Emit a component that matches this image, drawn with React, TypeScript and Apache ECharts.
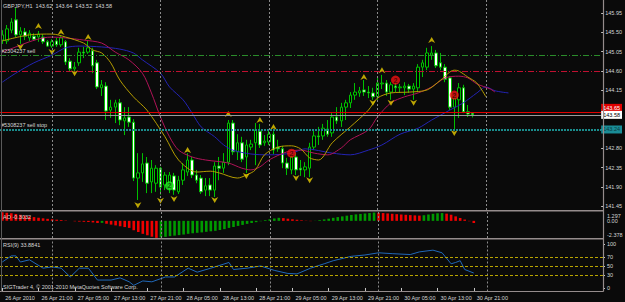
import React, { useEffect, useRef } from "react";
import * as echarts from "echarts";

const FONT = "Liberation Sans, Arial, sans-serif";
const TXT = "#d6d6d6";

const tickLabels = ["26 Apr 2010","26 Apr 21:00","27 Apr 05:00","27 Apr 13:00","27 Apr 21:00","28 Apr 05:00","28 Apr 13:00","28 Apr 21:00","29 Apr 05:00","29 Apr 13:00","29 Apr 21:00","30 Apr 05:00","30 Apr 13:00","30 Apr 21:00"];
const SLOTS = 133;
const categories = Array.from({ length: SLOTS }, (_, i) => String(i));

// [open, close, low, high]
const candles = [
[145.32,145.44,145.23,145.55],[145.30,145.58,145.23,145.67],[145.55,145.74,145.48,145.83],[145.79,145.44,145.39,146.07],[145.44,145.53,145.23,145.62],
[145.51,145.41,145.32,145.60],[145.37,145.48,145.30,145.55],[145.41,145.34,145.30,145.48],[145.39,145.46,145.28,145.53],[145.39,145.28,145.23,145.46],
[145.28,145.18,145.16,145.32],[145.18,145.28,145.14,145.34],[145.30,145.21,145.16,145.37],[145.21,145.37,145.16,145.41],[145.28,144.81,144.74,145.32],
[144.83,144.65,144.58,144.90],[144.65,144.69,144.60,144.81],[144.79,145.04,144.72,145.14],[145.04,145.02,144.90,145.16],[145.04,145.14,145.00,145.30],
[145.07,144.72,144.55,145.14],[144.79,144.23,144.18,144.86],[144.21,144.28,144.02,144.39],[144.25,143.67,143.46,144.34],[143.69,143.76,143.51,143.93],
[143.76,143.86,143.39,143.93],[143.86,143.46,143.34,143.95],[143.44,143.51,143.11,143.76],[143.53,143.41,143.30,143.76],[143.41,142.11,142.04,143.48],
[142.11,142.23,141.60,142.69],[142.23,142.44,142.02,142.69],[142.46,141.99,141.76,142.60],[142.02,142.34,141.76,142.53],[141.99,142.34,141.79,142.41],
[142.34,141.90,141.72,142.37],[141.95,142.18,141.83,142.25],[141.88,142.18,141.76,142.25],[142.16,141.83,141.72,142.23],[141.79,142.06,141.74,142.16],
[142.06,142.30,141.95,142.46],[142.25,142.53,142.16,142.69],[142.53,142.18,142.11,142.60],[142.18,142.06,141.99,142.30],[142.11,141.79,141.74,142.18],
[141.83,141.93,141.69,142.11],[141.95,141.83,141.69,142.11],[141.83,142.39,141.67,142.48],[142.39,142.34,142.06,142.60],[142.34,142.48,142.23,142.69],
[142.48,143.39,142.41,143.46],[143.39,142.72,142.65,143.46],[142.72,142.93,142.53,143.13],[142.93,142.55,142.48,143.07],[142.60,142.88,142.23,143.00],
[142.83,142.90,142.76,143.00],[142.93,143.23,142.41,143.39],[143.20,142.88,142.81,143.37],[142.93,142.97,142.86,143.11],[142.95,143.13,142.88,143.23],
[143.13,142.76,142.67,143.20],[142.83,142.79,142.72,143.00],[142.79,142.46,142.34,142.86],[142.46,142.34,142.18,142.58],[142.30,142.60,142.20,142.76],
[142.60,142.30,142.18,142.69],[142.34,142.30,142.16,142.53],[142.30,142.37,142.13,142.48],[142.34,142.83,142.13,142.93],[142.83,143.09,142.76,143.23],
[143.09,143.07,142.88,143.30],[143.09,143.27,143.00,143.37],[143.25,143.13,143.07,143.46],[143.16,143.53,143.07,143.62],[143.53,143.44,143.37,143.76],
[143.44,143.76,143.30,143.86],[143.76,143.86,143.46,143.93],[143.86,144.04,143.74,144.11],[144.04,144.11,143.93,144.32],[144.09,144.14,144.00,144.23],
[144.16,144.11,144.02,144.39],[144.11,144.09,143.97,144.25],[144.09,144.00,143.93,144.21],[144.00,144.32,143.93,144.46],[144.30,144.32,144.18,144.51],
[144.32,144.11,144.02,144.39],[144.11,144.28,143.93,144.34],[144.25,144.21,144.11,144.34],[144.21,144.23,144.09,144.30],[144.21,144.25,144.04,144.34],
[144.25,144.18,144.09,144.30],[144.18,144.25,143.93,144.32],[144.21,144.69,144.11,144.76],[144.69,144.79,144.46,144.86],[144.69,145.02,144.62,145.14],
[144.97,145.02,144.86,145.18],[145.02,144.72,144.67,145.09],[144.79,144.69,144.62,145.02],[144.69,144.41,144.34,144.76],[144.44,143.76,143.69,144.48],
[143.76,143.97,143.23,144.04],[143.93,144.21,143.51,144.32],[144.21,143.65,143.62,144.28],[143.65,143.60,143.53,143.81],[143.62,143.58,143.52,143.64]
];

// Alligator lines (bar index, price), shifted forward
const lipsLine = [[0,145.30],[6,145.44],[11,145.46],[14,145.39],[18,145.25],[20,145.09],[22,145.02],[24,144.79],[26,144.39],[29,144.00],[32,143.69],[36,143.07],[39,142.53],[43,142.25],[46,142.27],[48,142.23],[52,142.11],[54,142.18],[56,142.30],[58,142.65],[61,142.83],[64,142.86],[66,142.79],[68,142.58],[70,142.53],[73,142.93],[77,143.30],[81,143.69],[83,143.97],[86,144.09],[90,144.11],[94,144.16],[97,144.39],[100,144.62],[101,144.60],[103,144.46],[105,144.32],[107,144.00]];
const teethLine = [[0,145.04],[3,145.16],[6,145.28],[9,145.37],[11,145.39],[14,145.37],[18,145.32],[22,145.25],[25,145.04],[28,144.86],[31,144.55],[33,144.09],[35,143.53],[37,143.07],[39,142.76],[42,142.60],[45,142.53],[50,142.46],[53,142.34],[55,142.30],[57,142.37],[59,142.53],[63,142.72],[66,142.76],[69,142.69],[72,142.65],[75,142.81],[77,143.00],[81,143.23],[83,143.53],[86,143.86],[89,144.00],[92,144.09],[95,144.23],[98,144.44],[101,144.48],[103,144.44],[105,144.30],[108,144.18],[109,144.11]];
const jawLine = [[0,144.34],[3,144.55],[7,144.79],[11,144.97],[14,145.14],[17,145.18],[22,145.16],[26,145.11],[29,145.02],[31,144.86],[35,144.55],[37,144.23],[40,143.93],[42,143.62],[44,143.30],[47,143.07],[49,142.88],[51,142.76],[55,142.67],[59,142.65],[64,142.69],[67,142.79],[73,142.69],[77,142.65],[81,142.76],[84,142.88],[88,143.13],[92,143.27],[95,143.46],[99,143.69],[102,143.86],[105,144.09],[107,144.23],[109,144.14],[112,144.09]];

const upFractals = [[8,145.65],[13,145.51],[19,145.39],[41,142.76],[50,143.60],[57,143.46],[60,143.30],[80,144.46],[84,144.62],[95,145.32]];
const downFractals = [[4,145.16],[11,145.04],[16,144.55],[30,141.48],[35,141.58],[38,141.62],[47,141.60],[54,142.16],[65,142.11],[68,142.06],[82,143.86],[86,143.86],[91,143.86],[100,143.16]];
const greenSignals = [[37,141.93]];
const redSignals = [[64,142.69],[87,144.39],[100,144.04]];

const priceTicks = [141.45,141.90,142.35,142.80,143.25,143.70,144.15,144.60,145.05,145.50,145.95];
const priceLabels = [141.45,141.90,142.35,142.80,144.15,144.60,145.05,145.50,145.95];
const daySeparators = [11,35,59,83,107];

const aoValues = [1.20,1.12,1.05,0.96,0.84,0.73,0.62,0.52,0.43,0.35,0.28,0.22,0.16,0.11,0.05,0.00,-0.06,-0.10,-0.13,-0.16,-0.22,-0.30,-0.28,-0.40,-0.52,-0.63,-0.75,-0.86,-0.98,-1.30,-1.55,-1.80,-2.00,-2.20,-2.36,-2.30,-2.22,-2.12,-2.05,-1.98,-1.90,-1.80,-1.72,-1.66,-1.60,-1.52,-1.45,-1.38,-1.27,-1.15,-0.98,-0.85,-0.70,-0.56,-0.42,-0.30,-0.18,-0.05,0.10,0.22,0.33,0.42,0.38,0.30,0.22,0.15,0.08,0.03,-0.04,0.02,0.10,0.20,0.30,0.42,0.52,0.62,0.72,0.82,0.90,0.96,1.02,1.08,1.15,1.12,1.08,1.03,0.98,0.93,0.88,0.84,0.80,0.76,0.73,0.78,0.88,0.98,1.05,1.08,1.00,0.85,0.62,0.40,0.18,-0.05,-0.30];

const rsiPoints = [[0,59],[2,73],[3,73],[4,59],[6,64],[9,45],[11,48],[13,45],[15,25],[17,45],[19,45],[21,18],[24,18],[26,23],[28,14],[29,6],[31,16],[33,14],[36,25],[38,25],[41,45],[43,36],[46,45],[50,58],[51,42],[54,45],[57,50],[60,40],[63,33],[65,32],[68,45],[71,55],[73,62],[77,72],[80,75],[83,80],[86,78],[90,76],[92,82],[95,86],[97,80],[99,55],[100,58],[101,62],[102,42],[104,34]];
const rsiLevels = [30, 50, 70];

const titleText = "GBPJPY,H1  143.62  143.64  143.52  143.58";

function buildOption() {
  const gridL = -1, gridW = 604;
  const aoData = aoValues.map((v, i) => ({
    value: v,
    itemStyle: { color: i > 0 && v >= aoValues[i - 1] ? "#009a00" : "#f00000" },
  }));
  const sepLine = (gi: number) => ({
    type: "line", xAxisIndex: gi, yAxisIndex: gi, data: [], silent: true,
    markLine: {
      symbol: "none", silent: true, animation: false,
      lineStyle: { color: "#8a8a8a", type: [2, 2], width: 1 },
      label: { show: false },
      data: daySeparators.map((d) => ({ xAxis: String(d) })),
    },
  });
  const xAxisBase = (gi: number) => ({
    type: "category", gridIndex: gi, data: categories, boundaryGap: true,
    axisLine: { show: false }, axisTick: { show: false }, axisLabel: { show: false }, splitLine: { show: false },
  });
  const hLabel = (txt: string) => ({
    show: true, position: "insideStartTop", formatter: txt, color: TXT, fontSize: 5.5, fontFamily: FONT, distance: 1,
  });
  const boxLabel = (txt: string, bg: string, fg: string, dy = 0) => ({
    show: true, position: "end", formatter: txt, color: fg, backgroundColor: bg, fontSize: 5.5, fontFamily: FONT,
    padding: [1, 2, 1, 2], distance: 0, offset: [0, dy],
  });
  const arrowUp = "path://M4,0 L8,7 L4,5 L0,7 Z";
  return {
    animation: false,
    backgroundColor: "#0a0a0a",
    grid: [
      { left: gridL, top: 0, width: gridW, height: 210 },
      { left: gridL, top: 211.5, width: gridW, height: 26.5 },
      { left: gridL, top: 239.5, width: gridW, height: 52 },
    ],
    xAxis: [
      xAxisBase(0),
      xAxisBase(1),
      {
        ...xAxisBase(2),
        axisTick: {
          show: true, length: 3, alignWithLabel: true, lineStyle: { color: "#c8c8c8" },
          interval: (i: number) => i % 8 === 0 && i / 8 < tickLabels.length,
        },
        axisLabel: {
          show: true, color: TXT, fontSize: 5.5, fontFamily: FONT, align: "left", margin: 3, padding: [0, 0, 0, 3],
          interval: (i: number) => i % 8 === 0 && i / 8 < tickLabels.length,
          formatter: (_v: string, i: number) => tickLabels[i / 8] ?? "",
        },
      },
    ],
    yAxis: [
      {
        type: "value", gridIndex: 0, position: "right", min: 141.367, max: 146.252, scale: true,
        splitLine: { show: false }, axisLine: { show: false },
        axisTick: { show: true, length: 2, lineStyle: { color: "#c8c8c8" }, customValues: priceTicks },
        axisLabel: { show: true, color: TXT, fontSize: 5.5, fontFamily: FONT, margin: 4, customValues: priceLabels, formatter: (v: number) => v.toFixed(2) },
      },
      {
        type: "value", gridIndex: 1, position: "right", min: -2.378, max: 1.297,
        splitLine: { show: false }, axisLine: { show: false }, axisTick: { show: false }, axisLabel: { show: false },
      },
      {
        type: "value", gridIndex: 2, position: "right", min: -8, max: 110.2,
        splitLine: { show: false }, axisLine: { show: false },
        axisTick: { show: true, length: 2, lineStyle: { color: "#c8c8c8" }, customValues: [0, 30, 50, 70, 100] },
        axisLabel: { show: true, color: TXT, fontSize: 5.5, fontFamily: FONT, margin: 4, customValues: [0, 30, 50, 70, 100] },
      },
    ],
    series: [
      sepLine(0), sepLine(1), sepLine(2),
      {
        type: "candlestick", xAxisIndex: 0, yAxisIndex: 0, data: candles, barWidth: 3, z: 2,
        itemStyle: { color: "#000000", color0: "#ffffff", borderColor: "#00c000", borderColor0: "#00c000", borderWidth: 1 },
        markLine: {
          symbol: "none", silent: true, animation: false,
          data: [
            { yAxis: 144.97, lineStyle: { color: "#2a8c2a", type: [6, 2, 1, 2], width: 1 }, label: hLabel("#2304237 sell") },
            { yAxis: 144.60, lineStyle: { color: "#c01030", type: [6, 2, 1, 2], width: 1 }, label: { show: false } },
            { yAxis: 143.65, lineStyle: { color: "#e00000", type: "solid", width: 1 }, label: boxLabel("143.65", "#e00000", "#ffffff", -4) },
            { yAxis: 143.58, lineStyle: { color: "#9a9a9a", type: "solid", width: 1 }, label: boxLabel("143.58", "#ffffff", "#000000") },
            { yAxis: 143.24, lineStyle: { color: "#1a8c8c", type: [2, 1], width: 2 }, label: hLabel("#5308237 sell stop") },
            { yAxis: 143.24, lineStyle: { color: "#1a8c8c", type: [2, 1], width: 2 }, label: boxLabel("143.24", "#1a8c96", "#0b3a3e") },
          ],
        },
      },
      { type: "line", xAxisIndex: 0, yAxisIndex: 0, data: jawLine, symbol: "none", smooth: 0.3, z: 3, lineStyle: { color: "#2424b4", width: 1 } },
      { type: "line", xAxisIndex: 0, yAxisIndex: 0, data: teethLine, symbol: "none", smooth: 0.3, z: 3, lineStyle: { color: "#b01458", width: 1 } },
      { type: "line", xAxisIndex: 0, yAxisIndex: 0, data: lipsLine, symbol: "none", smooth: 0.3, z: 3, lineStyle: { color: "#b49c00", width: 1 } },
      { type: "scatter", xAxisIndex: 0, yAxisIndex: 0, data: upFractals, symbol: arrowUp, symbolSize: [7, 6], z: 4, itemStyle: { color: "#e8cc00" } },
      { type: "scatter", xAxisIndex: 0, yAxisIndex: 0, data: downFractals, symbol: arrowUp, symbolRotate: 180, symbolSize: [7, 6], z: 4, itemStyle: { color: "#e8cc00" } },
      {
        type: "scatter", xAxisIndex: 0, yAxisIndex: 0, data: greenSignals, symbol: "circle", symbolSize: 9, z: 5,
        itemStyle: { color: "#22ee22" },
        label: { show: true, position: "inside", formatter: "2", color: "#0a3a0a", fontSize: 7, fontWeight: "bold", fontFamily: FONT },
      },
      {
        type: "scatter", xAxisIndex: 0, yAxisIndex: 0, data: redSignals, symbol: "circle", symbolSize: 9, z: 5,
        itemStyle: { color: "#f01010" },
        label: { show: true, position: "inside", formatter: "2", color: "#3a0000", fontSize: 7, fontWeight: "bold", fontFamily: FONT },
      },
      { type: "bar", xAxisIndex: 1, yAxisIndex: 1, data: aoData, barWidth: 2.6, z: 2 },
      {
        type: "line", xAxisIndex: 2, yAxisIndex: 2, data: rsiPoints, symbol: "none", z: 3, lineStyle: { color: "#2068b8", width: 1 },
        markLine: {
          symbol: "none", silent: true, animation: false,
          lineStyle: { color: "#b8a400", type: [3, 2], width: 1 }, label: { show: false },
          data: rsiLevels.map((v) => ({ yAxis: v })),
        },
      },
    ],
    graphic: [
      { type: "line", shape: { x1: 603.5, y1: 0, x2: 603.5, y2: 291.5 }, style: { stroke: "#958c8c", lineWidth: 1.2 }, z: 10 },
      { type: "line", shape: { x1: 0, y1: 210.8, x2: 603.5, y2: 210.8 }, style: { stroke: "#958c8c", lineWidth: 1.5 }, z: 10 },
      { type: "line", shape: { x1: 0, y1: 238.8, x2: 603.5, y2: 238.8 }, style: { stroke: "#958c8c", lineWidth: 1.5 }, z: 10 },
      { type: "line", shape: { x1: 0, y1: 291.5, x2: 603.5, y2: 291.5 }, style: { stroke: "#958c8c", lineWidth: 1.2 }, z: 10 },
      { type: "line", shape: { x1: 1.5, y1: 0, x2: 1.5, y2: 291.5 }, style: { stroke: "#5a5a5a", lineWidth: 1 }, z: 10 },
      { type: "text", x: 3, y: 3, style: { text: titleText, fill: TXT, fontSize: 5.5, fontFamily: FONT }, z: 11 },
      { type: "text", x: 3, y: 214, style: { text: "AO -0.3032", fill: TXT, fontSize: 5.5, fontFamily: FONT }, z: 11 },
      { type: "text", x: 3, y: 242, style: { text: "RSI(9) 33.8841", fill: TXT, fontSize: 5.5, fontFamily: FONT }, z: 11 },
      { type: "text", x: 3, y: 284, style: { text: "SIGTrader 4, \u00a9 2001-2010 MetaQuotes Software Corp.", fill: TXT, fontSize: 5.5, fontFamily: FONT }, z: 11 },
      { type: "text", x: 607, y: 212.5, style: { text: "1.297", fill: TXT, fontSize: 5.5, fontFamily: FONT }, z: 11 },
      { type: "text", x: 607, y: 218, style: { text: "0.00", fill: TXT, fontSize: 5.5, fontFamily: FONT }, z: 11 },
      { type: "text", x: 607, y: 231.5, style: { text: "-2.378", fill: TXT, fontSize: 5.5, fontFamily: FONT }, z: 11 },
    ],
  };
}

export default function App() {
  const ref = useRef<HTMLDivElement>(null);
  useEffect(() => {
    if (!ref.current) return;
    const chart = echarts.init(ref.current, null, { renderer: "svg" });
    chart.setOption(buildOption() as any);
    return () => chart.dispose();
  }, []);
  return <div ref={ref} style={{ position: "fixed", left: 0, top: 0, width: 625, height: 302 }} />;
}
